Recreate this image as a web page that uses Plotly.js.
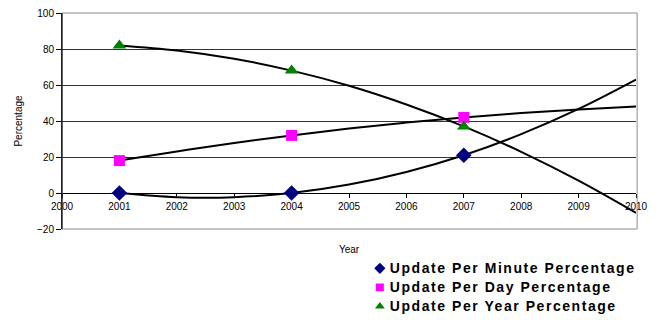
<!DOCTYPE html>
<html>
<head>
<meta charset="utf-8">
<script src="https://cdn.plot.ly/plotly-3.0.1.min.js"></script>
<style>
  html, body { margin: 0; padding: 0; background: #fff; }
  #chart { width: 658px; height: 320px; }
  /* compact legend rows with wide, bold labels and small symbols next to them */
  .legendtext { font-size: 14px !important; letter-spacing: 1.55px; }
  .legend path.scatterpts { transform: translate(30px, 0px) scale(0.72); }
</style>
</head>
<body>
<div id="chart"></div>
<script>
// Survey years and measured shares (%)
const years = [2001, 2004, 2007];
const perMinute = [0, 0, 21];
const perDay = [18, 32, 42];
const perYear = [82, 68, 37];

// Polynomial trend curves, sampled once per year from 2001 to 2010
const trendYears = [2001, 2002, 2003, 2004, 2005, 2006, 2007, 2008, 2009, 2010];
const trendMinute = [0, -2.3, -2.3, 0, 4.7, 11.7, 21, 32.7, 46.7, 63];
const trendDay = [18, 23.1, 27.8, 32, 35.8, 39.1, 42, 44.4, 46.4, 48];
const trendYear = [82, 79.2, 74.6, 68, 59.6, 49.2, 37, 22.9, 6.9, -11];

// Axis ticks
const xTicks = [2000, 2001, 2002, 2003, 2004, 2005, 2006, 2007, 2008, 2009, 2010];
const yTicks = [-20, 0, 20, 40, 60, 80, 100];

const trendLine = { color: '#000', width: 2, shape: 'spline', smoothing: 1 };

const traces = [
  { x: trendYears, y: trendMinute, mode: 'lines', line: trendLine, showlegend: false, hoverinfo: 'skip' },
  { x: trendYears, y: trendDay, mode: 'lines', line: trendLine, showlegend: false, hoverinfo: 'skip' },
  { x: trendYears, y: trendYear, mode: 'lines', line: trendLine, showlegend: false, hoverinfo: 'skip' },
  { x: years, y: perMinute, mode: 'markers', name: 'Update Per Minute Percentage',
    marker: { symbol: 'diamond', color: '#000080', size: 12 } },
  { x: years, y: perDay, mode: 'markers', name: 'Update Per Day Percentage',
    marker: { symbol: 'square', color: '#FF00FF', size: 11 } },
  { x: years, y: perYear, mode: 'markers', name: 'Update Per Year Percentage',
    marker: { symbol: 'triangle-up', color: '#008000', size: 12 } }
];

const layout = {
  width: 658,
  height: 320,
  margin: { l: 62, r: 22, t: 13, b: 91, autoexpand: false },
  paper_bgcolor: '#fff',
  plot_bgcolor: '#fff',
  font: { family: 'Liberation Sans, Arial, sans-serif', size: 10, color: '#000' },
  xaxis: {
    range: [2000, 2010],
    tickvals: xTicks,
    ticktext: xTicks.map(String),
    anchor: 'free',
    position: 1 / 6,
    showline: true,
    linecolor: '#000',
    linewidth: 1,
    ticks: 'outside',
    ticklen: 4,
    tickcolor: '#000',
    showgrid: false,
    zeroline: false,
    automargin: false,
    tickfont: { size: 10 },
    title: { text: 'Year', font: { size: 10 }, standoff: 34 }
  },
  yaxis: {
    range: [-20, 100],
    tickvals: yTicks,
    showline: true,
    linecolor: '#000',
    linewidth: 1,
    ticks: 'outside',
    ticklen: 5,
    tickcolor: '#000',
    showgrid: true,
    gridcolor: '#333',
    gridwidth: 1,
    zeroline: false,
    automargin: false,
    tickfont: { size: 10 },
    title: { text: 'Percentage', font: { size: 10 }, standoff: 12 }
  },
  shapes: [
    { type: 'rect', xref: 'paper', yref: 'paper', x0: 0, x1: 1.002, y0: 0, y1: 1,
      line: { color: '#8c8c8c', width: 1 }, layer: 'above' },
    { type: 'line', xref: 'paper', yref: 'paper', x0: 0, x1: 0, y0: 0, y1: 1,
      line: { color: '#000', width: 1 }, layer: 'above' }
  ],
  legend: {
    x: 0.5015,
    xanchor: 'left',
    y: -0.115,
    yanchor: 'top',
    bgcolor: 'rgba(0,0,0,0)',
    tracegroupgap: 0,
    itemwidth: 30,
    font: { family: 'Liberation Sans, Arial, sans-serif', size: 11.4, weight: 'bold', color: '#000' }
  },
  showlegend: true
};

Plotly.newPlot('chart', traces, layout, { displayModeBar: false, staticPlot: true });
</script>
</body>
</html>
